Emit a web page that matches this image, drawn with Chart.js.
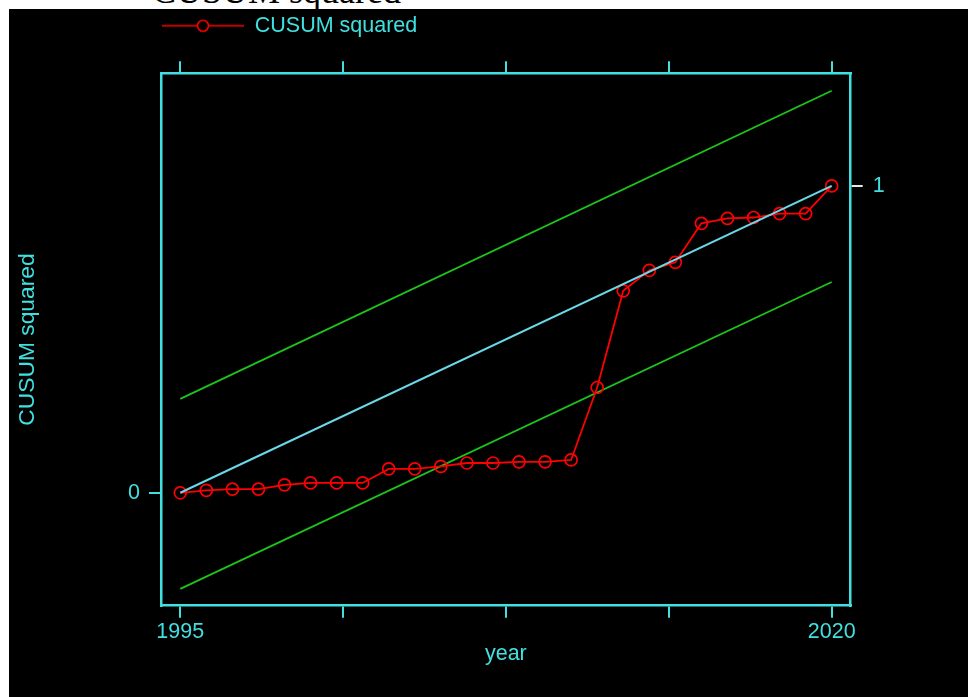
<!DOCTYPE html>
<html>
<head>
<meta charset="utf-8">
<script src="https://cdn.jsdelivr.net/npm/chart.js@4.4.0/dist/chart.umd.min.js"></script>
<style>
  html, body { margin: 0; padding: 0; background: #fff; }
  body { width: 968px; height: 697px; position: relative; overflow: hidden; }
  #topTitle { position: absolute; left: 0; top: 0; width: 968px; height: 9px; overflow: hidden; }
  #topTitle span { position: absolute; left: 152px; top: -30px; font: 36px 'Liberation Serif', serif; white-space: nowrap; color: #000; }
  #wrap { position: absolute; left: 9px; top: 9px; width: 959px; height: 688px; background: #000; }
</style>
</head>
<body>
<div id="topTitle"><span>CUSUM squared</span></div>
<div id="wrap"><canvas id="chart" width="959" height="688"></canvas></div>
<script>
const years = [1995, 1996, 1997, 1998, 1999, 2000, 2001, 2002, 2003, 2004, 2005, 2006, 2007,
               2008, 2009, 2010, 2011, 2012, 2013, 2014, 2015, 2016, 2017, 2018, 2019, 2020]
const cusumSq = [0, 0.008, 0.012, 0.012, 0.026, 0.032, 0.032, 0.032, 0.078, 0.078, 0.086, 0.097, 0.097,
                 0.101, 0.101, 0.107, 0.343, 0.658, 0.725, 0.751, 0.878, 0.894, 0.897, 0.910, 0.910, 1.0]

// reference line and 5% bands, start and end only
const lineYears = [1995, 2020]
const expected = [0, 1]
const upperBand = [0.306, 1.310]
const lowerBand = [-0.313, 0.687]

const xTicks = [1995, 2001.25, 2007.5, 2013.75, 2020]
const xTickLabels = ['1995', '', '', '', '2020']
const yLeftTicks = [0]
const yRightTicks = [1]

const cyan = '#40e0e0'
const fontFamily = "'Liberation Sans', Arial, sans-serif"
const labelFont = { family: fontFamily, size: 21.5, lineHeight: 1 }

const toPoints = (xs, ys) => xs.map((x, i) => ({ x: x, y: ys[i] }))

// legend marker: line with a hollow circle in the middle
const legendIcon = document.createElement('canvas')
legendIcon.width = 82
legendIcon.height = 16
const ic = legendIcon.getContext('2d')
ic.strokeStyle = '#ff0000'
ic.lineWidth = 1.6
ic.beginPath()
ic.moveTo(0, 8)
ic.lineTo(82, 8)
ic.stroke()
ic.beginPath()
ic.arc(41, 8, 5.5, 0, Math.PI * 2)
ic.fillStyle = '#000'
ic.fill()
ic.stroke()

const legendShift = {
    id: 'legendShift',
    afterLayout(chart) {
        const lg = chart.legend
        const w = lg.right - lg.left
        lg.left = 147
        lg.right = lg.left + w
    }
}

const xMin = 1994.26, xMax = 2020.73
const yMin = -0.368, yMax = 1.367

new Chart(document.getElementById('chart'), {
    type: 'line',
    data: {
        datasets: [
            {
                label: 'CUSUM squared',
                data: toPoints(years, cusumSq),
                borderColor: '#ff0000',
                borderWidth: 1.8,
                pointRadius: 6,
                pointBorderWidth: 1.7,
                pointBorderColor: '#ff0000',
                pointBackgroundColor: 'rgba(0,0,0,0)',
                order: 1
            },
            {
                label: 'expected',
                data: toPoints(lineYears, expected),
                borderColor: '#6ad8e8',
                borderWidth: 2,
                pointRadius: 0,
                order: 0
            },
            {
                label: 'upper',
                data: toPoints(lineYears, upperBand),
                borderColor: '#1cc41c',
                borderWidth: 1.8,
                pointRadius: 0,
                order: 2
            },
            {
                label: 'lower',
                data: toPoints(lineYears, lowerBand),
                borderColor: '#1cc41c',
                borderWidth: 1.8,
                pointRadius: 0,
                order: 2
            }
        ]
    },
    options: {
        responsive: false,
        animation: false,
        layout: { padding: 0 },
        plugins: {
            legend: {
                position: 'top',
                align: 'start',
                labels: {
                    filter: (item) => item.datasetIndex === 0,
                    usePointStyle: true,
                    pointStyle: legendIcon,
                    pointStyleWidth: 82,
                    color: cyan,
                    font: labelFont,
                    padding: 6
                }
            },
            tooltip: { enabled: false }
        },
        scales: {
            x: {
                type: 'linear',
                position: 'bottom',
                min: xMin,
                max: xMax,
                afterBuildTicks: (s) => { s.ticks = xTicks.map((v) => ({ value: v })) },
                afterFit: (s) => { s.height = 91.3 },
                ticks: {
                    callback: (v, i) => xTickLabels[i],
                    color: cyan,
                    font: labelFont,
                    padding: 4,
                    maxRotation: 0,
                    autoSkip: false
                },
                grid: { drawOnChartArea: false, tickLength: 12, color: cyan, lineWidth: 2 },
                border: { color: cyan, width: 2.5 },
                title: { display: true, text: 'year', color: cyan, font: labelFont, padding: { top: 0, bottom: 32 } }
            },
            x2: {
                type: 'linear',
                position: 'top',
                min: xMin,
                max: xMax,
                afterBuildTicks: (s) => { s.ticks = xTicks.map((v) => ({ value: v })) },
                afterFit: (s) => { s.height = 26.8 },
                ticks: { display: false },
                grid: { drawOnChartArea: false, tickLength: 12, color: cyan, lineWidth: 2 },
                border: { color: cyan, width: 2.5 }
            },
            y: {
                type: 'linear',
                position: 'left',
                min: yMin,
                max: yMax,
                afterBuildTicks: (s) => { s.ticks = yLeftTicks.map((v) => ({ value: v })) },
                afterFit: (s) => { s.width = 152 },
                ticks: { callback: (v) => String(v), color: cyan, font: labelFont, padding: 9 },
                grid: { drawOnChartArea: false, tickLength: 12, color: cyan, lineWidth: 2 },
                border: { color: cyan, width: 2.5 },
                title: {
                    display: true, text: 'CUSUM squared', color: cyan,
                    font: { family: fontFamily, size: 22.8, lineHeight: 1.2 },
                    padding: { top: 5, bottom: 0 }
                }
            },
            y2: {
                type: 'linear',
                position: 'right',
                min: yMin,
                max: yMax,
                afterBuildTicks: (s) => { s.ticks = yRightTicks.map((v) => ({ value: v })) },
                afterFit: (s) => { s.width = 117.3 },
                ticks: { callback: (v) => String(v), color: cyan, font: labelFont, padding: 10 },
                grid: { drawOnChartArea: false, tickLength: 12, color: cyan, tickColor: '#e6e6e6', lineWidth: 2 },
                border: { color: cyan, width: 2.5 }
            }
        }
    },
    plugins: [legendShift]
})
</script>
</body>
</html>
